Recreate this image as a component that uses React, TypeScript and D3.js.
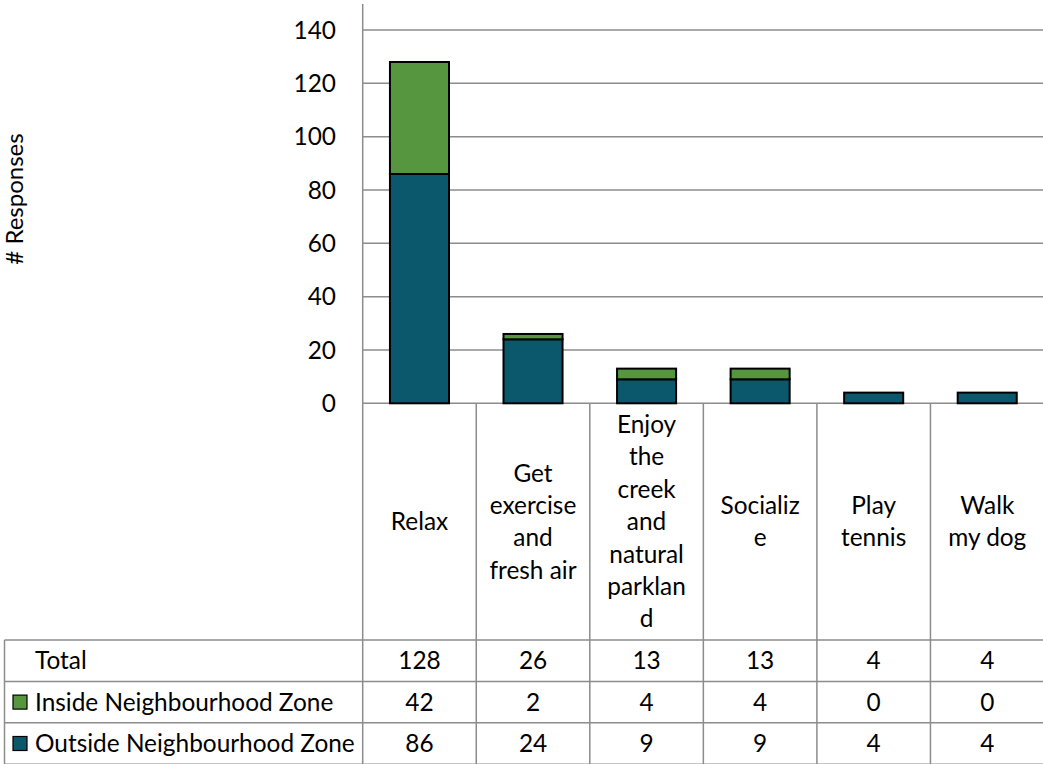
import React from "react";
import * as d3 from "d3";

const categories = ["Relax", "Get exercise and fresh air", "Enjoy the creek and natural parkland", "Socialize", "Play tennis", "Walk my dog"];
const categoryLines = [
  ["Relax"],
  ["Get", "exercise", "and", "fresh air"],
  ["Enjoy", "the", "creek", "and", "natural", "parklan", "d"],
  ["Socializ", "e"],
  ["Play", "tennis"],
  ["Walk", "my dog"],
];
const insideValues = [42, 2, 4, 4, 0, 0];
const outsideValues = [86, 24, 9, 9, 4, 4];
const yTicks = [0, 20, 40, 60, 80, 100, 120, 140];
const seriesNames = ["Inside Neighbourhood Zone", "Outside Neighbourhood Zone"];
const yTitle = "# Responses";

const W = 1043;
const H = 764;
const FONT = "Lato, 'Open Sans', sans-serif";
const FS = 24.4;
const GREEN = "#55963f";
const TEAL = "#0b586d";
const GRID = "#8c8c8c";

export default function App() {
  const left = 362.7;
  const right = left + 6 * 113.55;
  const x = d3.scaleBand<string>().domain(categories).range([left, right]).paddingInner(0).paddingOuter(0);
  const y = d3.scaleLinear().domain([0, 140]).range([403.3, 30]);
  const bw = x.bandwidth() * 0.52;
  const tableTop = 640;
  const rowH = 41.4;
  const tableLeft = 4.5;
  const totals = categories.map((_, i) => insideValues[i] + outsideValues[i]);
  const stack = d3.stack<number>().keys(["outside", "inside"]).value((i, k) => (k === "outside" ? outsideValues[i] : insideValues[i]));
  const series = stack(categories.map((_, i) => i));
  const colors = [TEAL, GREEN];
  const rows = [
    { label: "Total", values: totals, color: null as string | null },
    { label: seriesNames[0], values: insideValues, color: GREEN },
    { label: seriesNames[1], values: outsideValues, color: TEAL },
  ];
  const labelMid = (y(0) + tableTop) / 2;
  const lineH = 32.4;
  return (
    <svg width={W} height={H} style={{ position: "fixed", left: 0, top: 0 }} fontFamily={FONT}>
      <rect width={W} height={H} fill="#fff" />
      {yTicks.map((t) => (
        <g key={t}>
          {t > 0 && <line x1={left} x2={W} y1={y(t)} y2={y(t)} stroke={GRID} strokeWidth={1.5} />}
          <text x={336} y={y(t)} dy="0.35em" textAnchor="end" fontSize={FS} fill="#000">{t}</text>
        </g>
      ))}
      <text transform={`translate(23,199) rotate(-90)`} textAnchor="middle" fontSize={24} fill="#000">{yTitle}</text>
      {/* table grid */}
      <line x1={left} x2={W} y1={y(0)} y2={y(0)} stroke={GRID} strokeWidth={1.5} />
      <line x1={left} x2={left} y1={4} y2={H} stroke={GRID} strokeWidth={1.5} />
      {categories.slice(1).map((c) => (
        <line key={c} x1={x(c)!} x2={x(c)!} y1={y(0)} y2={H} stroke={GRID} strokeWidth={1.5} />
      ))}
      <line x1={tableLeft} x2={tableLeft} y1={tableTop} y2={H} stroke={GRID} strokeWidth={1.5} />
      {[0, 1, 2, 3].map((r) => (
        <line key={r} x1={tableLeft} x2={W} y1={tableTop + r * rowH} y2={tableTop + r * rowH} stroke={GRID} strokeWidth={1.5} />
      ))}
      {/* bars */}
      {series.map((s, si) =>
        s.map((d, i) => {
          const c = categories[i];
          const h = y(d[0]) - y(d[1]);
          if (h <= 0) return null;
          return (
            <rect key={`${si}-${i}`} x={x(c)! + (x.bandwidth() - bw) / 2} y={y(d[1])} width={bw} height={h} fill={colors[si]} stroke="#000" strokeWidth={2} />
          );
        })
      )}
      {/* category labels */}
      {categoryLines.map((lines, i) => {
        const cx = x(categories[i])! + x.bandwidth() / 2;
        const start = labelMid - ((lines.length - 1) * lineH) / 2;
        return lines.map((ln, j) => (
          <text key={`${i}-${j}`} x={cx} y={start + j * lineH} dy="0.35em" textAnchor="middle" fontSize={FS} fill="#000">{ln}</text>
        ));
      })}
      {/* table rows */}
      {rows.map((r, ri) => {
        const cy = tableTop + ri * rowH + rowH / 2;
        return (
          <g key={r.label}>
            {r.color && <rect x={13} y={cy - 7} width={14} height={14} fill={r.color} stroke="#000" strokeWidth={1.2} />}
            <text x={35} y={cy} dy="0.35em" fontSize={FS} fill="#000">{r.label}</text>
            {r.values.map((v, i) => (
              <text key={i} x={x(categories[i])! + x.bandwidth() / 2} y={cy} dy="0.35em" textAnchor="middle" fontSize={FS} fill="#000">{v}</text>
            ))}
          </g>
        );
      })}
    </svg>
  );
}
